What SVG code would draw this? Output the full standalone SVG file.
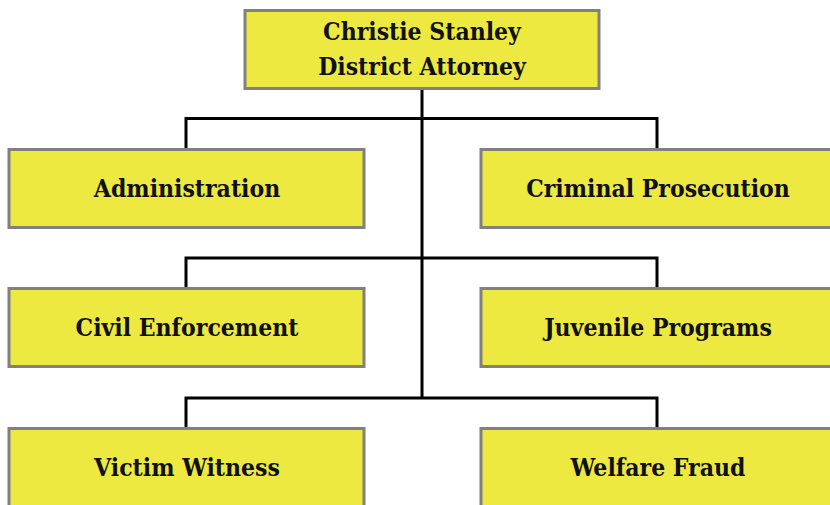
<svg xmlns="http://www.w3.org/2000/svg" width="830" height="505" viewBox="0 0 830 505">
<style>
.box{fill:#EEE940;stroke:#808080;stroke-width:3}
.lbl{font-family:"DejaVu Serif Condensed","DejaVu Serif","Liberation Serif",serif;font-stretch:condensed;font-weight:bold;font-size:24.5px;fill:#111;text-anchor:middle}
.ln{fill:none;stroke:#000;stroke-width:3}
</style>
<rect width="830" height="505" fill="#fff"/>
<g id="connectors">
<line class="ln" x1="422" y1="89" x2="422" y2="398"/>
<path class="ln" d="M186,149 V118.5 H657 V149"/>
<path class="ln" d="M186,288 V258 H657 V288"/>
<path class="ln" d="M186,428 V398 H657 V428"/>
</g>
<g id="n0"><rect class="box" x="245" y="10.5" width="354" height="78"/><text class="lbl" x="422" y="40">Christie Stanley</text><text class="lbl" x="422" y="75">District Attorney</text></g>
<g id="n1"><rect class="box" x="9" y="149.5" width="355" height="78"/><text class="lbl" x="187" y="197">Administration</text></g>
<g id="n2"><rect class="box" x="481" y="149.5" width="356" height="78"/><text class="lbl" x="658" y="197">Criminal Prosecution</text></g>
<g id="n3"><rect class="box" x="9" y="288.5" width="355" height="78"/><text class="lbl" x="187" y="336">Civil Enforcement</text></g>
<g id="n4"><rect class="box" x="481" y="288.5" width="356" height="78"/><text class="lbl" x="658" y="336">Juvenile Programs</text></g>
<g id="n5"><rect class="box" x="9" y="428.5" width="355" height="78"/><text class="lbl" x="187" y="476">Victim Witness</text></g>
<g id="n6"><rect class="box" x="481" y="428.5" width="356" height="78"/><text class="lbl" x="658" y="476">Welfare Fraud</text></g>
</svg>
